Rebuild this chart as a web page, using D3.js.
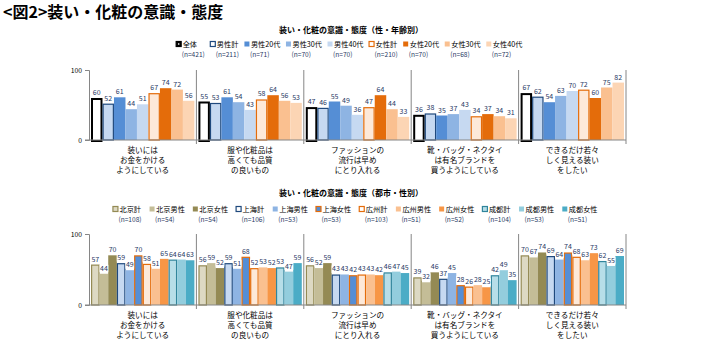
<!DOCTYPE html>
<html>
<head>
<meta charset="utf-8">
<script src="https://cdn.jsdelivr.net/npm/d3@7"></script>
<style>
  body { margin: 0; background: #fff; }
  svg { display: block; font-family: "Noto Sans CJK JP", "Noto Sans", sans-serif; }
</style>
</head>
<body>
<svg id="chart" width="711" height="343"></svg>
<script>
// 設問（両グラフ共通）
var categories = [
  ["装いには", "お金をかける", "ようにしている"],
  ["服や化粧品は", "高くても品質", "の良いもの"],
  ["ファッションの", "流行は早め", "にとり入れる"],
  ["靴・バッグ・ネクタイ", "は有名ブランドを", "買うようにしている"],
  ["できるだけ若々", "しく見える装い", "をしたい"]
];

// 性・年齢別
var ageSeries = ["全体", "男性計", "男性20代", "男性30代", "男性40代", "女性計", "女性20代", "女性30代", "女性40代"];
var ageN = ["n=421", "n=211", "n=71", "n=70", "n=70", "n=210", "n=70", "n=68", "n=72"];
var ageValues = [
  [60, 52, 61, 44, 51, 67, 74, 72, 56],
  [55, 53, 61, 54, 43, 58, 64, 56, 53],
  [47, 46, 55, 49, 36, 47, 64, 44, 33],
  [36, 38, 35, 37, 43, 34, 37, 34, 31],
  [67, 62, 54, 63, 70, 72, 60, 75, 82]
];

// 都市・性別
var citySeries = ["北京計", "北京男性", "北京女性", "上海計", "上海男性", "上海女性", "広州計", "広州男性", "広州女性", "成都計", "成都男性", "成都女性"];
var cityN = ["n=108", "n=54", "n=54", "n=106", "n=53", "n=53", "n=103", "n=51", "n=52", "n=104", "n=53", "n=51"];
var cityValues = [
  [57, 44, 70, 59, 49, 70, 58, 51, 65, 64, 64, 63],
  [56, 59, 52, 59, 51, 68, 52, 53, 52, 53, 47, 59],
  [56, 52, 59, 43, 43, 42, 43, 43, 42, 46, 47, 45],
  [39, 32, 46, 37, 45, 28, 26, 28, 25, 42, 49, 35],
  [70, 67, 74, 69, 64, 74, 68, 63, 73, 62, 55, 69]
];

var yTicks = [0, 100];

// 系列ごとの塗り・枠線・凡例の塗り
var ageStyle = [
  {fill: "#ffffff", stroke: "#000000", sw: 2, key: "#000000"},
  {fill: "#c6d9f1", stroke: "#1f497d", sw: 1.2, key: "#ffffff"},
  {fill: "#558ed5", stroke: null, sw: 0, key: "#558ed5"},
  {fill: "#8eb4e3", stroke: null, sw: 0, key: "#8eb4e3"},
  {fill: "#c6d9f1", stroke: null, sw: 0, key: "#c6d9f1"},
  {fill: "#fde9d9", stroke: "#e46c0a", sw: 1.2, key: "#ffffff"},
  {fill: "#e46c0a", stroke: null, sw: 0, key: "#e46c0a"},
  {fill: "#fac090", stroke: null, sw: 0, key: "#fac090"},
  {fill: "#fcd5b4", stroke: null, sw: 0, key: "#fcd5b4"}
];
var cityStyle = [
  {fill: "#ddd9c3", stroke: "#948a54", sw: 1.2, key: "#ddd9c3"},
  {fill: "#c4bd97", stroke: null, sw: 0, key: "#c4bd97"},
  {fill: "#948a54", stroke: null, sw: 0, key: "#948a54"},
  {fill: "#c6d9f1", stroke: "#1f497d", sw: 1.2, key: "#ffffff"},
  {fill: "#8eb4e3", stroke: null, sw: 0, key: "#8eb4e3"},
  {fill: "#558ed5", stroke: "#e46c0a", sw: 1.2, key: "#558ed5"},
  {fill: "#fde9d9", stroke: "#e46c0a", sw: 1.2, key: "#ffffff"},
  {fill: "#fac090", stroke: null, sw: 0, key: "#fac090"},
  {fill: "#f79646", stroke: null, sw: 0, key: "#f79646"},
  {fill: "#b7dee8", stroke: "#31859c", sw: 1.2, key: "#b7dee8"},
  {fill: "#93cddd", stroke: null, sw: 0, key: "#93cddd"},
  {fill: "#4bacc6", stroke: null, sw: 0, key: "#4bacc6"}
];

var svg = d3.select("#chart");
var axisColor = "#868686";
var labelColor = "#1f3864";

svg.append("text")
  .attr("x", 3).attr("y", 18)
  .attr("font-size", 16).attr("font-weight", "bold")
  .attr("fill", "#000")
  .text("<図2>装い・化粧の意識・態度");

function legend(g, names, ns, styles, cx, y, gap){
  var items = g.append("g");
  var x = 0;
  names.forEach(function(name, i){
    var it = items.append("g").attr("transform", "translate(" + x + ",0)");
    var st = styles[i];
    var heavy = st.sw >= 2;
    it.append("rect")
      .attr("x", 0.5).attr("y", y - 5.5)
      .attr("width", 5).attr("height", 5)
      .attr("fill", heavy ? "#000" : st.key)
      .attr("stroke", st.stroke || "none")
      .attr("stroke-width", 1.2);
    if (heavy) {
      it.append("rect").attr("x", 2.3).attr("y", y - 3.7)
        .attr("width", 1.4).attr("height", 1.4).attr("fill", "#fff");
    }
    var t1 = it.append("text")
      .attr("x", 7).attr("y", y)
      .attr("font-size", 7.2).attr("fill", "#000")
      .text(name);
    var t2 = it.append("text")
      .attr("x", 6).attr("y", y + 10)
      .attr("font-size", 6.6).attr("fill", "#1f3864")
      .text("(" + ns[i] + ")");
    var w = Math.max(t1.node().getComputedTextLength() + 7,
                     t2.node().getComputedTextLength() + 6);
    x += w + gap;
  });
  items.attr("transform", "translate(" + (cx - (x - gap) / 2) + ",0)");
}

function panel(opts){
  var g = svg.append("g");
  var x0 = d3.scaleBand()
    .domain(d3.range(categories.length))
    .range([89, 626])
    .paddingInner(0).paddingOuter(0);
  var x1 = d3.scaleBand()
    .domain(d3.range(opts.series.length))
    .range([2, x0.bandwidth() - 2])
    .padding(0);
  var y = d3.scaleLinear().domain([0, 100]).range([opts.bottom, opts.top]);

  g.append("text")
    .attr("x", 351).attr("y", opts.titleY)
    .attr("text-anchor", "middle")
    .attr("font-size", 8).attr("font-weight", "bold")
    .attr("fill", "#000")
    .text(opts.title);

  legend(g, opts.series, opts.n, opts.styles, opts.legendX, opts.legendY, opts.gap);

  // 区切り線
  g.selectAll("line.div")
    .data(d3.range(1, categories.length + 1))
    .join("line")
    .attr("x1", function(d){ return x0(0) + d * x0.bandwidth(); })
    .attr("x2", function(d){ return x0(0) + d * x0.bandwidth(); })
    .attr("y1", y(100)).attr("y2", y(0) + 4)
    .attr("stroke", axisColor).attr("stroke-width", 1);

  var groups = g.selectAll("g.grp")
    .data(opts.values)
    .join("g")
    .attr("transform", function(d, i){ return "translate(" + x0(i) + ",0)"; });

  groups.selectAll("rect")
    .data(function(d){ return d; })
    .join("rect")
    .attr("x", function(d, i){
      var sw = opts.styles[i].sw;
      return x1(i) + sw / 2;
    })
    .attr("width", function(d, i){ return x1.bandwidth() - opts.styles[i].sw; })
    .attr("y", function(d, i){ return y(d) + opts.styles[i].sw / 2; })
    .attr("height", function(d, i){
      var sw = opts.styles[i].sw;
      return y(0) - y(d) - sw / 2 + (sw >= 2 ? 1 : 0);
    })
    .attr("fill", function(d, i){ return opts.styles[i].fill; })
    .attr("stroke", function(d, i){ return opts.styles[i].stroke || "none"; })
    .attr("stroke-width", function(d, i){ return opts.styles[i].sw; });

  // 数値ラベル（白地）
  var labels = groups.selectAll("g.lab")
    .data(function(d){ return d; })
    .join("g");
  labels.each(function(d, i){
    var lg = d3.select(this);
    var cx = x1(i) + x1.bandwidth() / 2;
    var t = lg.append("text")
      .attr("x", cx).attr("y", y(d) - 3)
      .attr("text-anchor", "middle")
      .attr("font-size", 7)
      .attr("fill", labelColor)
      .text(d);
    var w = t.node().getComputedTextLength();
    lg.insert("rect", "text")
      .attr("x", cx - w / 2 - 0.5).attr("y", y(d) - 9)
      .attr("width", w + 1).attr("height", 7.5)
      .attr("fill", "#fff");
  });

  // 軸
  var yAxis = d3.axisLeft(y).tickValues(yTicks).tickSize(4).tickPadding(3);
  var ya = g.append("g").attr("transform", "translate(89,0)").call(yAxis);
  ya.select(".domain").attr("stroke", axisColor);
  ya.selectAll(".tick line").attr("stroke", axisColor);
  ya.selectAll(".tick text")
    .attr("font-size", 6.8).attr("fill", "#000")
    .attr("font-family", "\"Noto Sans CJK JP\", sans-serif");

  g.append("line")
    .attr("x1", 85).attr("x2", 626)
    .attr("y1", y(0)).attr("y2", y(0))
    .attr("stroke", axisColor).attr("stroke-width", 1);

  // 設問ラベル
  var cats = g.selectAll("text.cat")
    .data(categories)
    .join("text")
    .attr("text-anchor", "middle")
    .attr("font-size", 7.6)
    .attr("fill", "#000")
    .attr("x", function(d, i){ return x0(i) + x0.bandwidth() / 2; });
  cats.selectAll("tspan")
    .data(function(d){ return d; })
    .join("tspan")
    .attr("x", function(){ return d3.select(this.parentNode).attr("x"); })
    .attr("y", function(d, j){ return opts.bottom + 13 + j * 10; })
    .text(function(d){ return d; });
}

panel({
  title: "装い・化粧の意識・態度（性・年齢別）",
  titleY: 33, legendY: 47, legendX: 349, gap: 5,
  series: ageSeries, n: ageN, values: ageValues, styles: ageStyle,
  top: 70, bottom: 140
});

panel({
  title: "装い・化粧の意識・態度（都市・性別）",
  titleY: 196, legendY: 212, legendX: 355, gap: 7.5,
  series: citySeries, n: cityN, values: cityValues, styles: cityStyle,
  top: 234, bottom: 305
});
</script>
</body>
</html>
